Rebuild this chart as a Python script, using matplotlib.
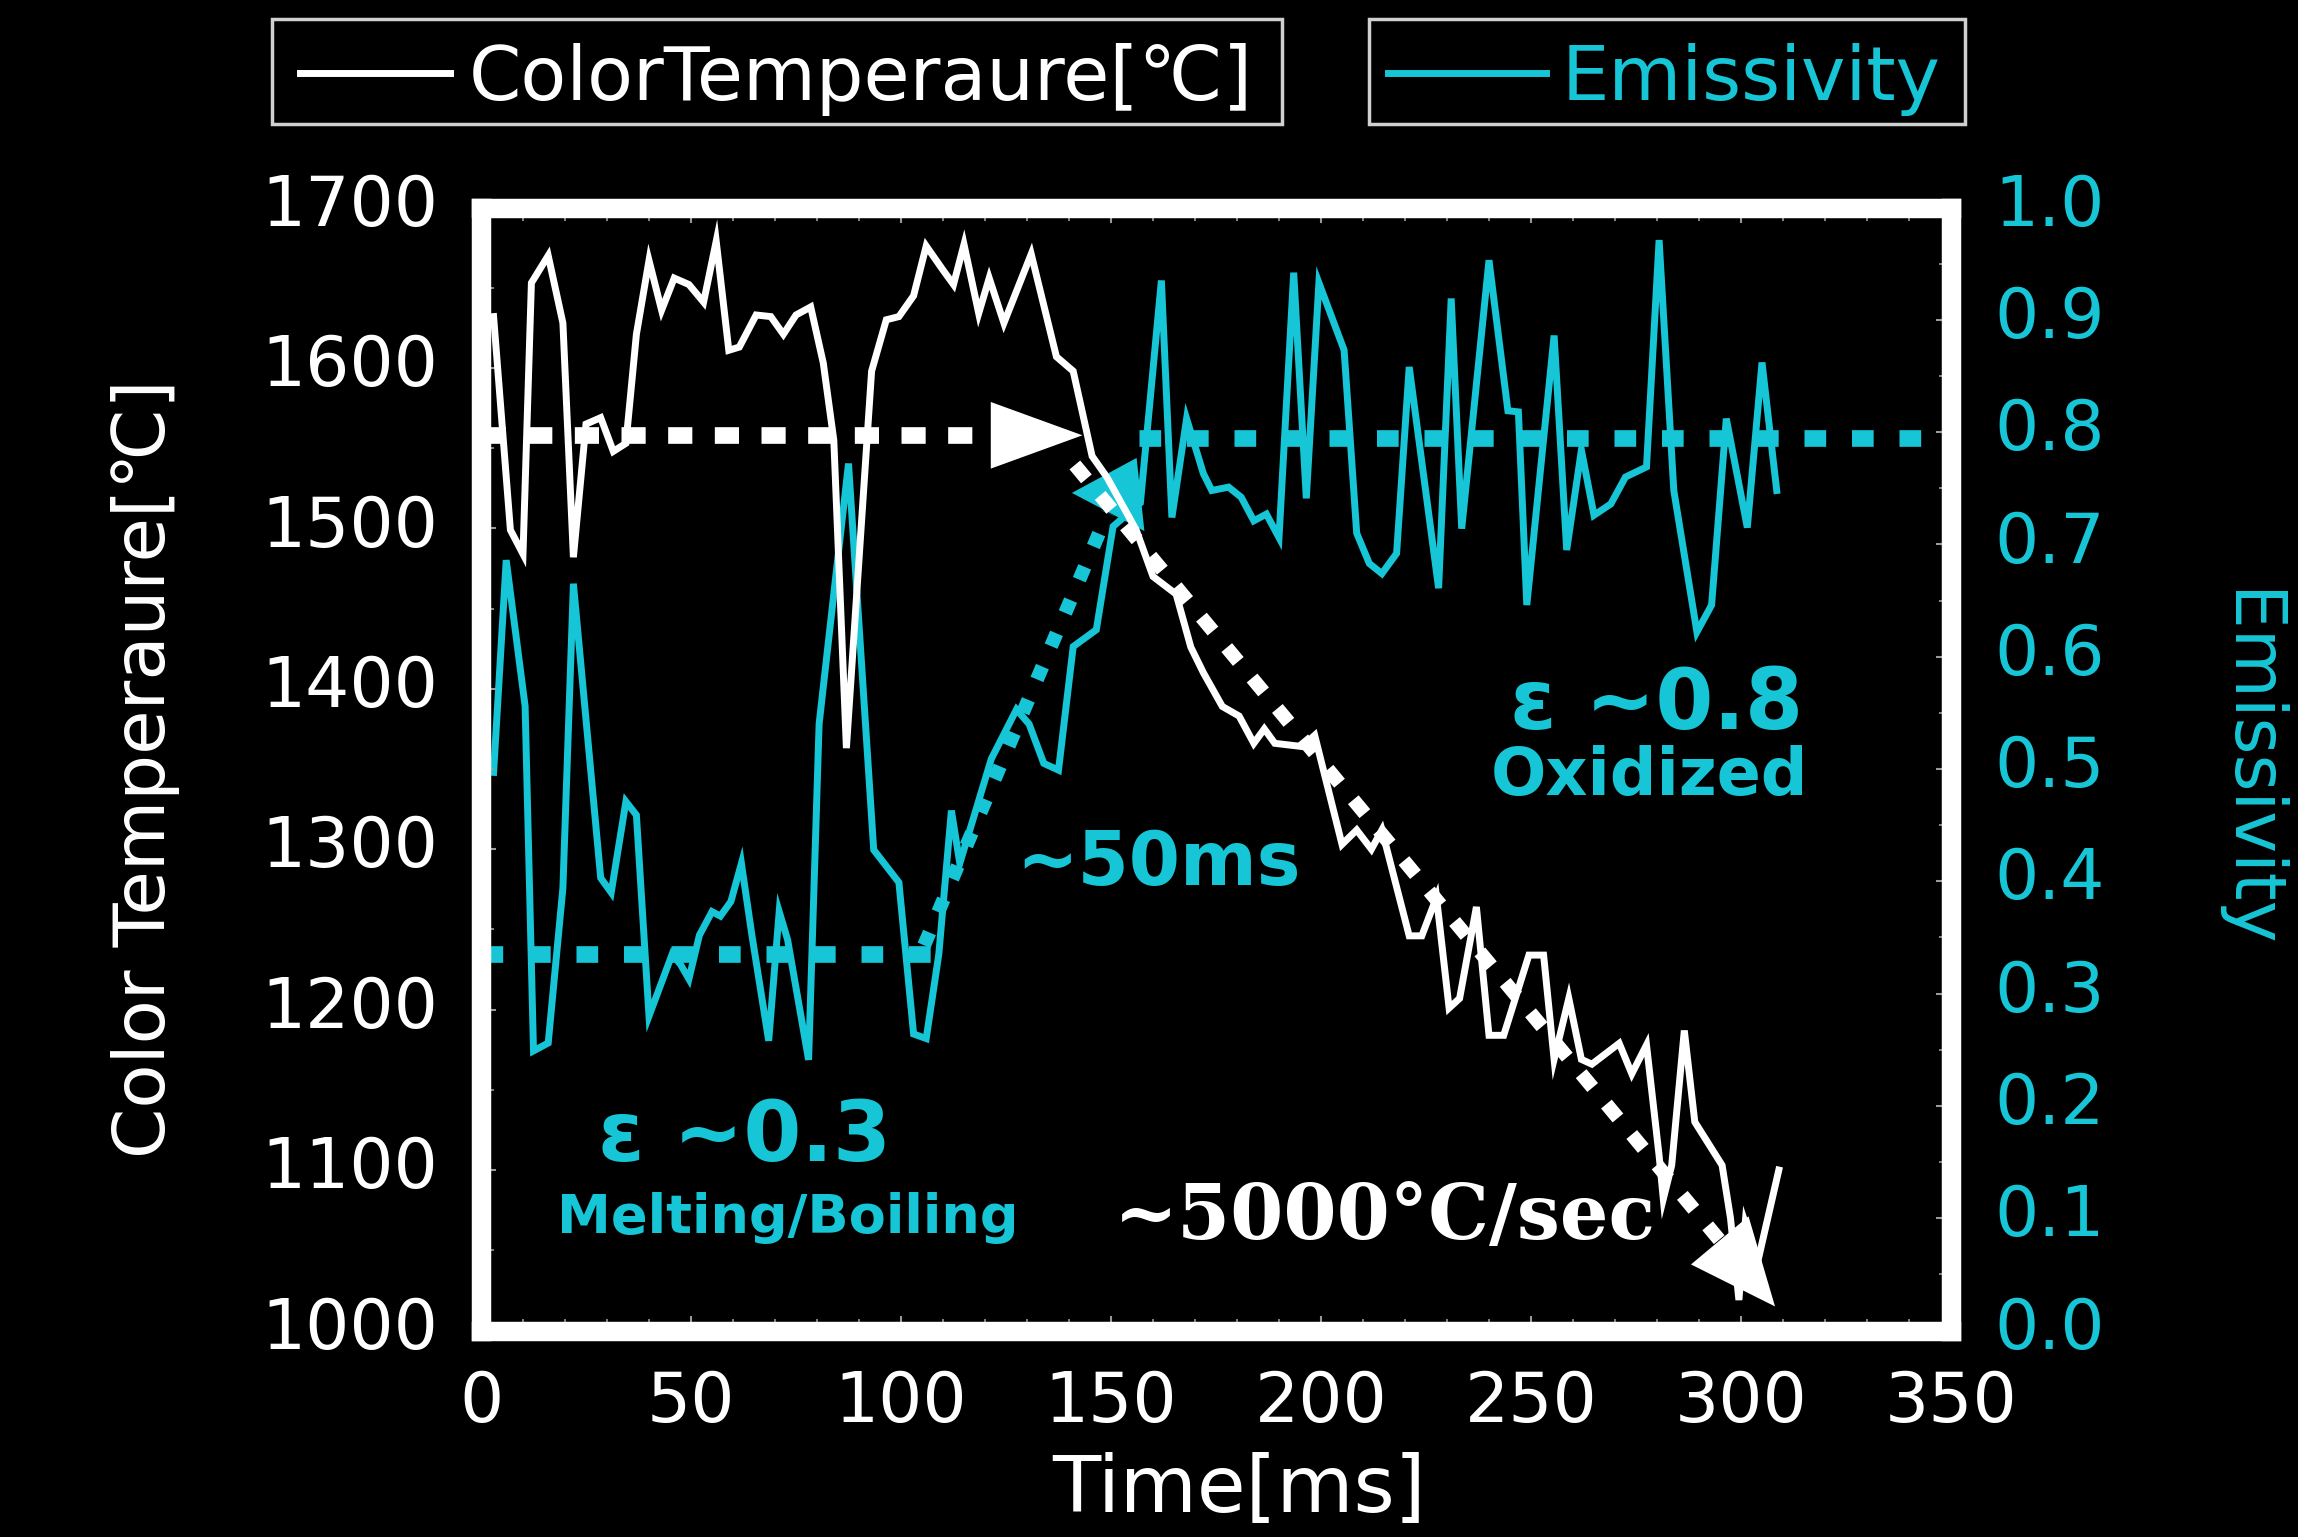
import matplotlib.pyplot as plt
from matplotlib.patches import Rectangle
from matplotlib.ticker import MultipleLocator, FormatStrFormatter
from matplotlib.transforms import ScaledTranslation

# color temperature trace (white line)
temp_time = [3, 7, 10, 12, 16, 19.5, 22, 25, 28.5, 31.5, 34.5, 37, 40, 43, 46, 49.5, 53, 56, 59, 61.5,
             65.5, 69, 72, 75, 78.5, 81.5, 84, 87, 93, 96.5, 99.5, 103, 106, 110, 112.5, 115, 118.5, 121, 124.5, 131,
             137, 141, 145.5, 149, 156, 160, 165.5, 169, 172, 176.5, 180.5, 184, 186.5, 189, 195.5, 198.5, 205, 208.5, 212, 214.5, 221,
             224, 227.5, 230.5, 233, 237, 240, 243.5, 249.5, 253, 255.5, 259, 262, 264.5, 271, 274, 277.5, 280.5, 281.5, 283.5, 286.5,
             289, 295.5, 297.5, 299.5, 301, 304, 309]
temp_value = [1632, 1499, 1484, 1653, 1670, 1628, 1482, 1565, 1569, 1548, 1553, 1621, 1667, 1636, 1656, 1652, 1641, 1679, 1611, 1613,
              1633, 1632, 1621, 1633, 1638, 1603, 1555, 1363, 1598, 1630, 1632, 1645, 1676, 1661, 1652, 1677, 1634, 1656, 1628, 1671,
              1607, 1598, 1545, 1532, 1499, 1470, 1459, 1426, 1410, 1389, 1383, 1366, 1375, 1366, 1364, 1371, 1303, 1312, 1300, 1312, 1246,
              1246, 1270, 1201, 1207, 1264, 1184, 1184, 1234, 1234, 1169, 1207, 1169, 1166, 1179, 1160, 1178, 1109, 1082, 1103, 1187,
              1130, 1103, 1070, 1019, 1067, 1043, 1100]

# emissivity trace (cyan line)
emis_time = [3, 6, 10.5, 12.5, 16, 19.5, 22, 25, 28.5, 31, 34.5, 37, 40, 45.5, 47.5, 49.5, 52, 55, 57, 59.5,
             62, 64.5, 68.5, 71, 73, 78, 80.5, 87.5, 93.5, 99.5, 103, 106, 109, 112, 114, 121.5, 127.5, 130.5, 134, 137.5,
             141, 146.5, 150.5, 157, 162, 164.5, 168, 172, 174, 178, 181, 184, 187, 190, 193.5, 196.5, 199.5, 205.5, 208.5, 211.5, 214.5,
             218, 221, 228, 231, 233.5, 240, 244.5, 247, 249, 255.5, 258.5, 262, 265, 269, 272.5, 277.5, 280.5, 284, 289.5, 293,
             296.5, 301.5, 305, 308.5]
emis_value = [0.497, 0.686, 0.556, 0.249, 0.256, 0.394, 0.665, 0.544, 0.403, 0.390, 0.471, 0.459, 0.280, 0.335, 0.326, 0.313, 0.352, 0.373, 0.369, 0.382,
              0.416, 0.352, 0.258, 0.373, 0.348, 0.241, 0.540, 0.772, 0.428, 0.399, 0.264, 0.260, 0.335, 0.463, 0.416, 0.509, 0.553, 0.540, 0.505, 0.499,
              0.609, 0.624, 0.716, 0.737, 0.935, 0.724, 0.812, 0.763, 0.748, 0.751, 0.742, 0.721, 0.727, 0.706, 0.942, 0.741, 0.933, 0.873, 0.710, 0.683, 0.674,
              0.692, 0.858, 0.661, 0.919, 0.714, 0.953, 0.819, 0.818, 0.646, 0.886, 0.695, 0.784, 0.726, 0.736, 0.760, 0.769, 0.971, 0.748, 0.622, 0.646,
              0.812, 0.715, 0.862, 0.748]

x_ticks = [0, 50, 100, 150, 200, 250, 300, 350]
temp_ticks = [1000, 1100, 1200, 1300, 1400, 1500, 1600, 1700]
emis_ticks = [0.0, 0.1, 0.2, 0.3, 0.4, 0.5, 0.6, 0.7, 0.8, 0.9, 1.0]

# guide lines / arrows (time, value)
temp_level = 1558
temp_level_span = [0, 121.4]
temp_level_tip = [143.2, 1558]
cool_start = [141.4, 1539.5]
cool_base = [295, 1056]
cool_tip = [308.1, 1015]
emis_low = 0.335
emis_low_span = [0, 112.4]
emis_high = 0.795
emis_high_span = [156.7, 350]
rise_start = [105.5, 0.343]
rise_base = [149.2, 0.728]
rise_tip = [156.1, 0.777]

CYAN = '#17c6d6'
W, H = 2298, 1537


def fx(px):
    return px / W


def fy(py):
    return 1 - py / H


def plot_graph():
    plt.rcParams['font.family'] = ['DejaVu Sans']
    fig = plt.figure(figsize=(W / 100, H / 100), dpi=100, facecolor='black')
    ax = fig.add_axes([fx(481), fy(1330.5), (1951 - 481) / W, (1330.5 - 207.5) / H])
    ax2 = ax.twinx()
    # white stuff sits on top of the cyan stuff
    ax.set_zorder(ax2.get_zorder() + 1)
    ax.patch.set_visible(False)
    ax2.patch.set_visible(True)
    ax2.patch.set_facecolor('black')

    # emissivity side
    line_e, = ax2.plot(emis_time, emis_value, color=CYAN, lw=5, solid_joinstyle='miter')
    ax2.plot(emis_low_span, [emis_low, emis_low], color=CYAN, lw=12,
             linestyle=(0, (1.3, 1.55)), dash_capstyle='butt')
    ax2.plot(emis_high_span, [emis_high, emis_high], color=CYAN, lw=12,
             linestyle=(0, (1.3, 1.55)), dash_capstyle='butt')
    ax2.plot([rise_start[0], rise_base[0]], [rise_start[1], rise_base[1]], color=CYAN, lw=10,
             linestyle=(0, (1.0, 1.6)), dash_capstyle='butt')
    ax2.annotate('', xy=rise_tip, xytext=rise_base,
                 arrowprops=dict(arrowstyle='-|>,head_length=4.4,head_width=2.95', mutation_scale=10,
                                 color=CYAN, lw=0, shrinkA=0, shrinkB=0))

    # temperature side
    line_t, = ax.plot(temp_time, temp_value, color='white', lw=5, solid_joinstyle='miter')
    ax.plot(temp_level_span, [temp_level, temp_level], color='white', lw=12,
            linestyle=(0, (1.45, 1.35)), dash_capstyle='butt')
    ax.annotate('', xy=temp_level_tip, xytext=[temp_level_span[1], temp_level],
                arrowprops=dict(arrowstyle='-|>,head_length=6.6,head_width=2.4', mutation_scale=10,
                                color='white', lw=0, shrinkA=0, shrinkB=0))
    ax.plot([cool_start[0], cool_base[0]], [cool_start[1], cool_base[1]], color='white', lw=10,
            linestyle=(0, (1.3, 1.55)), dash_capstyle='butt')
    ax.annotate('', xy=cool_tip, xytext=cool_base,
                arrowprops=dict(arrowstyle='-|>,head_length=6.2,head_width=2.7', mutation_scale=10,
                                color='white', lw=0, shrinkA=0, shrinkB=0))

    # axes ranges and ticks
    ax.set_xlim(0, 350)
    ax.set_ylim(1000, 1700)
    ax2.set_ylim(0, 1.0)
    ax.set_xticks(x_ticks)
    ax.set_yticks(temp_ticks)
    ax2.set_yticks(emis_ticks)
    ax2.yaxis.set_major_formatter(FormatStrFormatter('%.1f'))
    ax.xaxis.set_minor_locator(MultipleLocator(10))
    ax.yaxis.set_minor_locator(MultipleLocator(50))
    ax2.yaxis.set_minor_locator(MultipleLocator(0.05))

    ax.tick_params(which='both', direction='in', color='#9a9a9a', top=True, right=False)
    ax.tick_params(which='major', length=11, width=1.5)
    ax.tick_params(which='minor', length=9, width=1.2)
    ax.tick_params(axis='x', labelsize=50, labelcolor='white', pad=28)
    ax.tick_params(axis='y', labelsize=50, labelcolor='white', pad=31)
    ax2.tick_params(which='both', direction='in', color='#9a9a9a')
    ax2.tick_params(which='major', length=11, width=1.5)
    ax2.tick_params(which='minor', length=9, width=1.2)
    ax2.tick_params(axis='y', labelsize=50, labelcolor=CYAN, pad=31)

    # y tick labels sit a little above their ticks in the original
    lift = ScaledTranslation(0, 6 / 72, fig.dpi_scale_trans)
    for label in ax.get_yticklabels() + ax2.get_yticklabels():
        label.set_transform(label.get_transform() + lift)

    for side in ax.spines.values():
        side.set_color('white')
        side.set_linewidth(14)
    for side in ax2.spines.values():
        side.set_visible(False)

    # axis labels
    ax.set_xlabel('Time[ms]', fontsize=57, color='white')
    ax.xaxis.set_label_coords(0.5157, -0.1073)
    ax.set_ylabel('Color Temperaure[℃]', fontsize=52, color='white')
    ax.yaxis.set_label_coords(-0.205, 0.5)
    ax2.set_ylabel('Emissivity', fontsize=51, color=CYAN, rotation=270)
    ax2.yaxis.set_label_coords(1.2252, 0.5)

    # notes inside the plot
    fig.text(fx(1657), fy(706), 'ε ~0.8', color=CYAN, fontsize=60, fontweight='bold', ha='center', va='center')
    fig.text(fx(1650), fy(777), 'Oxidized', color=CYAN, fontsize=47, fontweight='bold', ha='center', va='center')
    fig.text(fx(1158), fy(865), '~50ms', color=CYAN, fontsize=53, fontweight='bold', ha='center', va='center')
    fig.text(fx(745), fy(1137), 'ε ~0.3', color=CYAN, fontsize=60, fontweight='bold', ha='center', va='center')
    fig.text(fx(788), fy(1218), 'Melting/Boiling', color=CYAN, fontsize=39, fontweight='bold', ha='center', va='center')
    fig.text(fx(1385), fy(1218), '~5000°C/sec', color='white', fontsize=55, fontweight='bold',
             family='DejaVu Serif', ha='center', va='center')

    # two separate legend boxes on top
    fig.legend(handles=[line_t], labels=['ColorTemperaure[℃]'], loc='center',
               bbox_to_anchor=(fx(776.5), fy(79)), frameon=False, fontsize=54, labelcolor='white',
               handlelength=2.0, handletextpad=0.25, borderpad=0, borderaxespad=0)
    fig.legend(handles=[line_e], labels=['Emissivity'], loc='center',
               bbox_to_anchor=(fx(1664.5), fy(79)), frameon=False, fontsize=54, labelcolor=CYAN,
               handlelength=2.1, handletextpad=0.22, borderpad=0, borderaxespad=0)
    for left, right in [(272, 1282), (1369, 1965)]:
        fig.add_artist(Rectangle((fx(left), fy(124)), (right - left) / W, (124 - 19) / H,
                                 transform=fig.transFigure, fill=False, edgecolor='#d0d0d0', linewidth=2.5))

    fig.savefig('out.png', dpi=100, facecolor='black')


def main():
    plot_graph()


if __name__ == "__main__":
    main()
